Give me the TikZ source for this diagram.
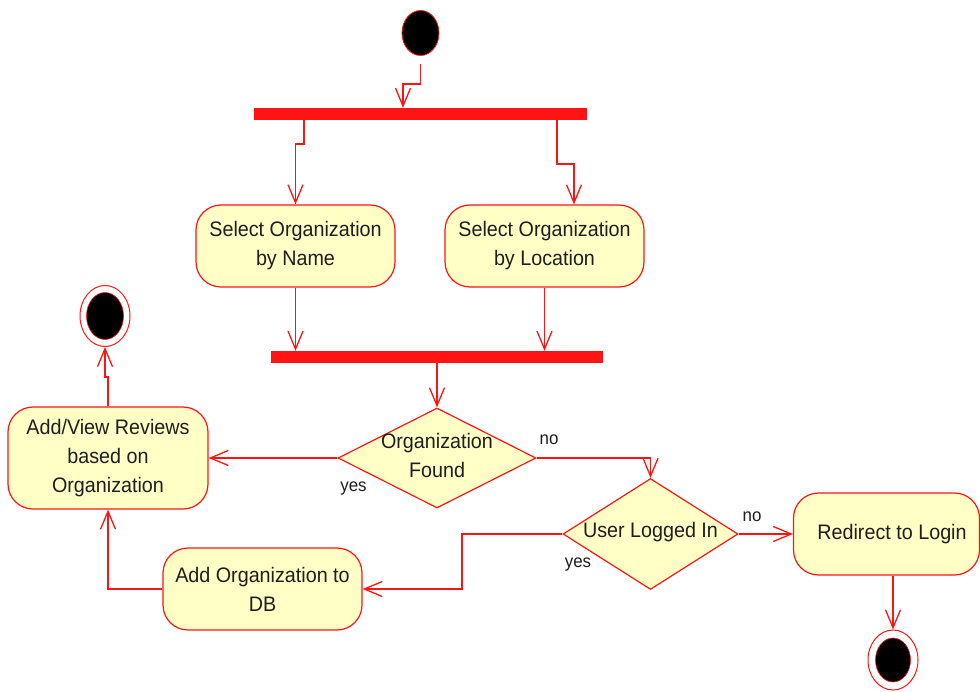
\documentclass[tikz,border=0pt]{standalone}
\usepackage{fontspec}
\setmainfont[FakeStretch=0.94]{Liberation Sans}
\usetikzlibrary{arrows.meta,shapes.geometric}
\definecolor{umlfill}{RGB}{255,255,198}
\definecolor{umlline}{RGB}{255,20,20}
\definecolor{umltext}{RGB}{30,30,30}
\tikzset{
  action/.style={rectangle, rounded corners=25pt, draw=umlline, line width=1.2pt,
    fill=umlfill, text=umltext, align=center, inner sep=0pt,
    font=\fontsize{21}{29}\selectfont},
  choice/.style={diamond, draw=umlline, line width=1.2pt, fill=umlfill, inner sep=0pt},
  choicetext/.style={text=umltext, align=center, inner sep=0pt,
    font=\fontsize{21}{29}\selectfont},
  syncbar/.style={rectangle, fill=umlline, inner sep=0pt, minimum height=12pt},
  initial/.style={ellipse, fill=black, draw=umlline, line width=0.8pt,
    minimum width=37pt, minimum height=45pt, inner sep=0pt},
  finalring/.style={ellipse, fill=white, draw=umlline, line width=1pt,
    minimum width=50pt, minimum height=61pt, inner sep=0pt},
  finaldot/.style={ellipse, fill=black, draw=umlline, line width=0.6pt,
    minimum width=36pt, minimum height=46pt, inner sep=0pt},
  guard/.style={text=umltext, inner sep=0pt, anchor=base,
    font=\fontsize{18}{20}\selectfont},
  flow/.style={draw=umlline, line width=1.3pt,
    -{Straight Barb[length=18pt,width=15pt]}}
}
\begin{document}
\begin{tikzpicture}[x=1pt,y=-1pt]
\useasboundingbox (0,0) rectangle (980,692);

% start, fork and the two selection actions
\node[initial] (start) at (420.5,33) {};
\node[syncbar, minimum width=333pt] (bar1) at (420.5,114) {};
\node[action, minimum width=199pt, minimum height=82pt] (name) at (295.5,246)
  {Select Organization\\by Name};
\node[action, minimum width=199pt, minimum height=82pt] (loc) at (544.5,246)
  {Select Organization\\by Location};
\node[syncbar, minimum width=332pt] (bar2) at (437,357) {};

% decisions
\node[choice, minimum width=198pt, minimum height=100pt] (found) at (437,458) {};
\node[choicetext] (foundtxt) at (437,455) {Organization\\Found};
\node[choice, minimum width=175pt, minimum height=111pt] (logged) at (650.5,534) {};
\node[choicetext] (loggedtxt) at (650.5,532) {User Logged In};

% remaining actions
\node[action, minimum width=200pt, minimum height=102pt] (addview) at (108,458)
  {Add/View Reviews\\based on\\Organization};
\node[action, minimum width=199pt, minimum height=82pt] (adddb) at (262.5,589)
  {Add Organization to\\DB};
\node[action, minimum width=186pt, minimum height=82pt] (redirect) at (886.5,534)
  {\hspace*{11pt}Redirect to Login};

% final states
\node[finalring] (end1) at (105,316) {};
\node[finaldot, minimum width=37pt, minimum height=47pt] (end1dot) at (105,316) {};
\node[finalring, minimum height=60pt] (end2) at (893,660) {};
\node[finaldot, minimum width=35pt, minimum height=44pt] (end2dot) at (893,660) {};

% bend points of the routed flows
\coordinate (s1) at (403,84);
\coordinate (f1) at (304,144);
\coordinate (f2) at (557,164);
\coordinate (f2b) at (574,164);
\coordinate (y1) at (462,534);
\coordinate (k1) at (108,377);

% flows
\draw[flow] ([yshift=-8pt]start.south) |- (s1) -- (s1 |- bar1.north);
\draw[flow] (f1 |- bar1.south) -- (f1) -| (name.north);
\draw[flow] (f2 |- bar1.south) -- (f2) -- (f2b) -- (f2b |- loc.north);
\draw[flow] (name.south) -- (name.south |- bar2.north);
\draw[flow] (loc.south) -- (loc.south |- bar2.north);
\draw[flow] (bar2.south) -- (found.north);
\draw[flow] (found.west) -- (addview.east);
\draw[flow] (found.east) -| (logged.north);
\draw[flow] (logged.east) -- (redirect.west);
\draw[flow] (logged.west) -- (y1) |- (adddb.east);
\draw[flow] (adddb.west) -| (addview.south);
\draw[flow] (addview.north) -- (k1) -| (end1.south);
\draw[flow] (redirect.south -| end2.north) -- (end2.north);

% guards
\node[guard] (g1) at (353.5,491) {yes};
\node[guard] (g2) at (549,445) {no};
\node[guard] (g3) at (752,521) {no};
\node[guard] (g4) at (578,567) {yes};
\end{tikzpicture}
\end{document}
